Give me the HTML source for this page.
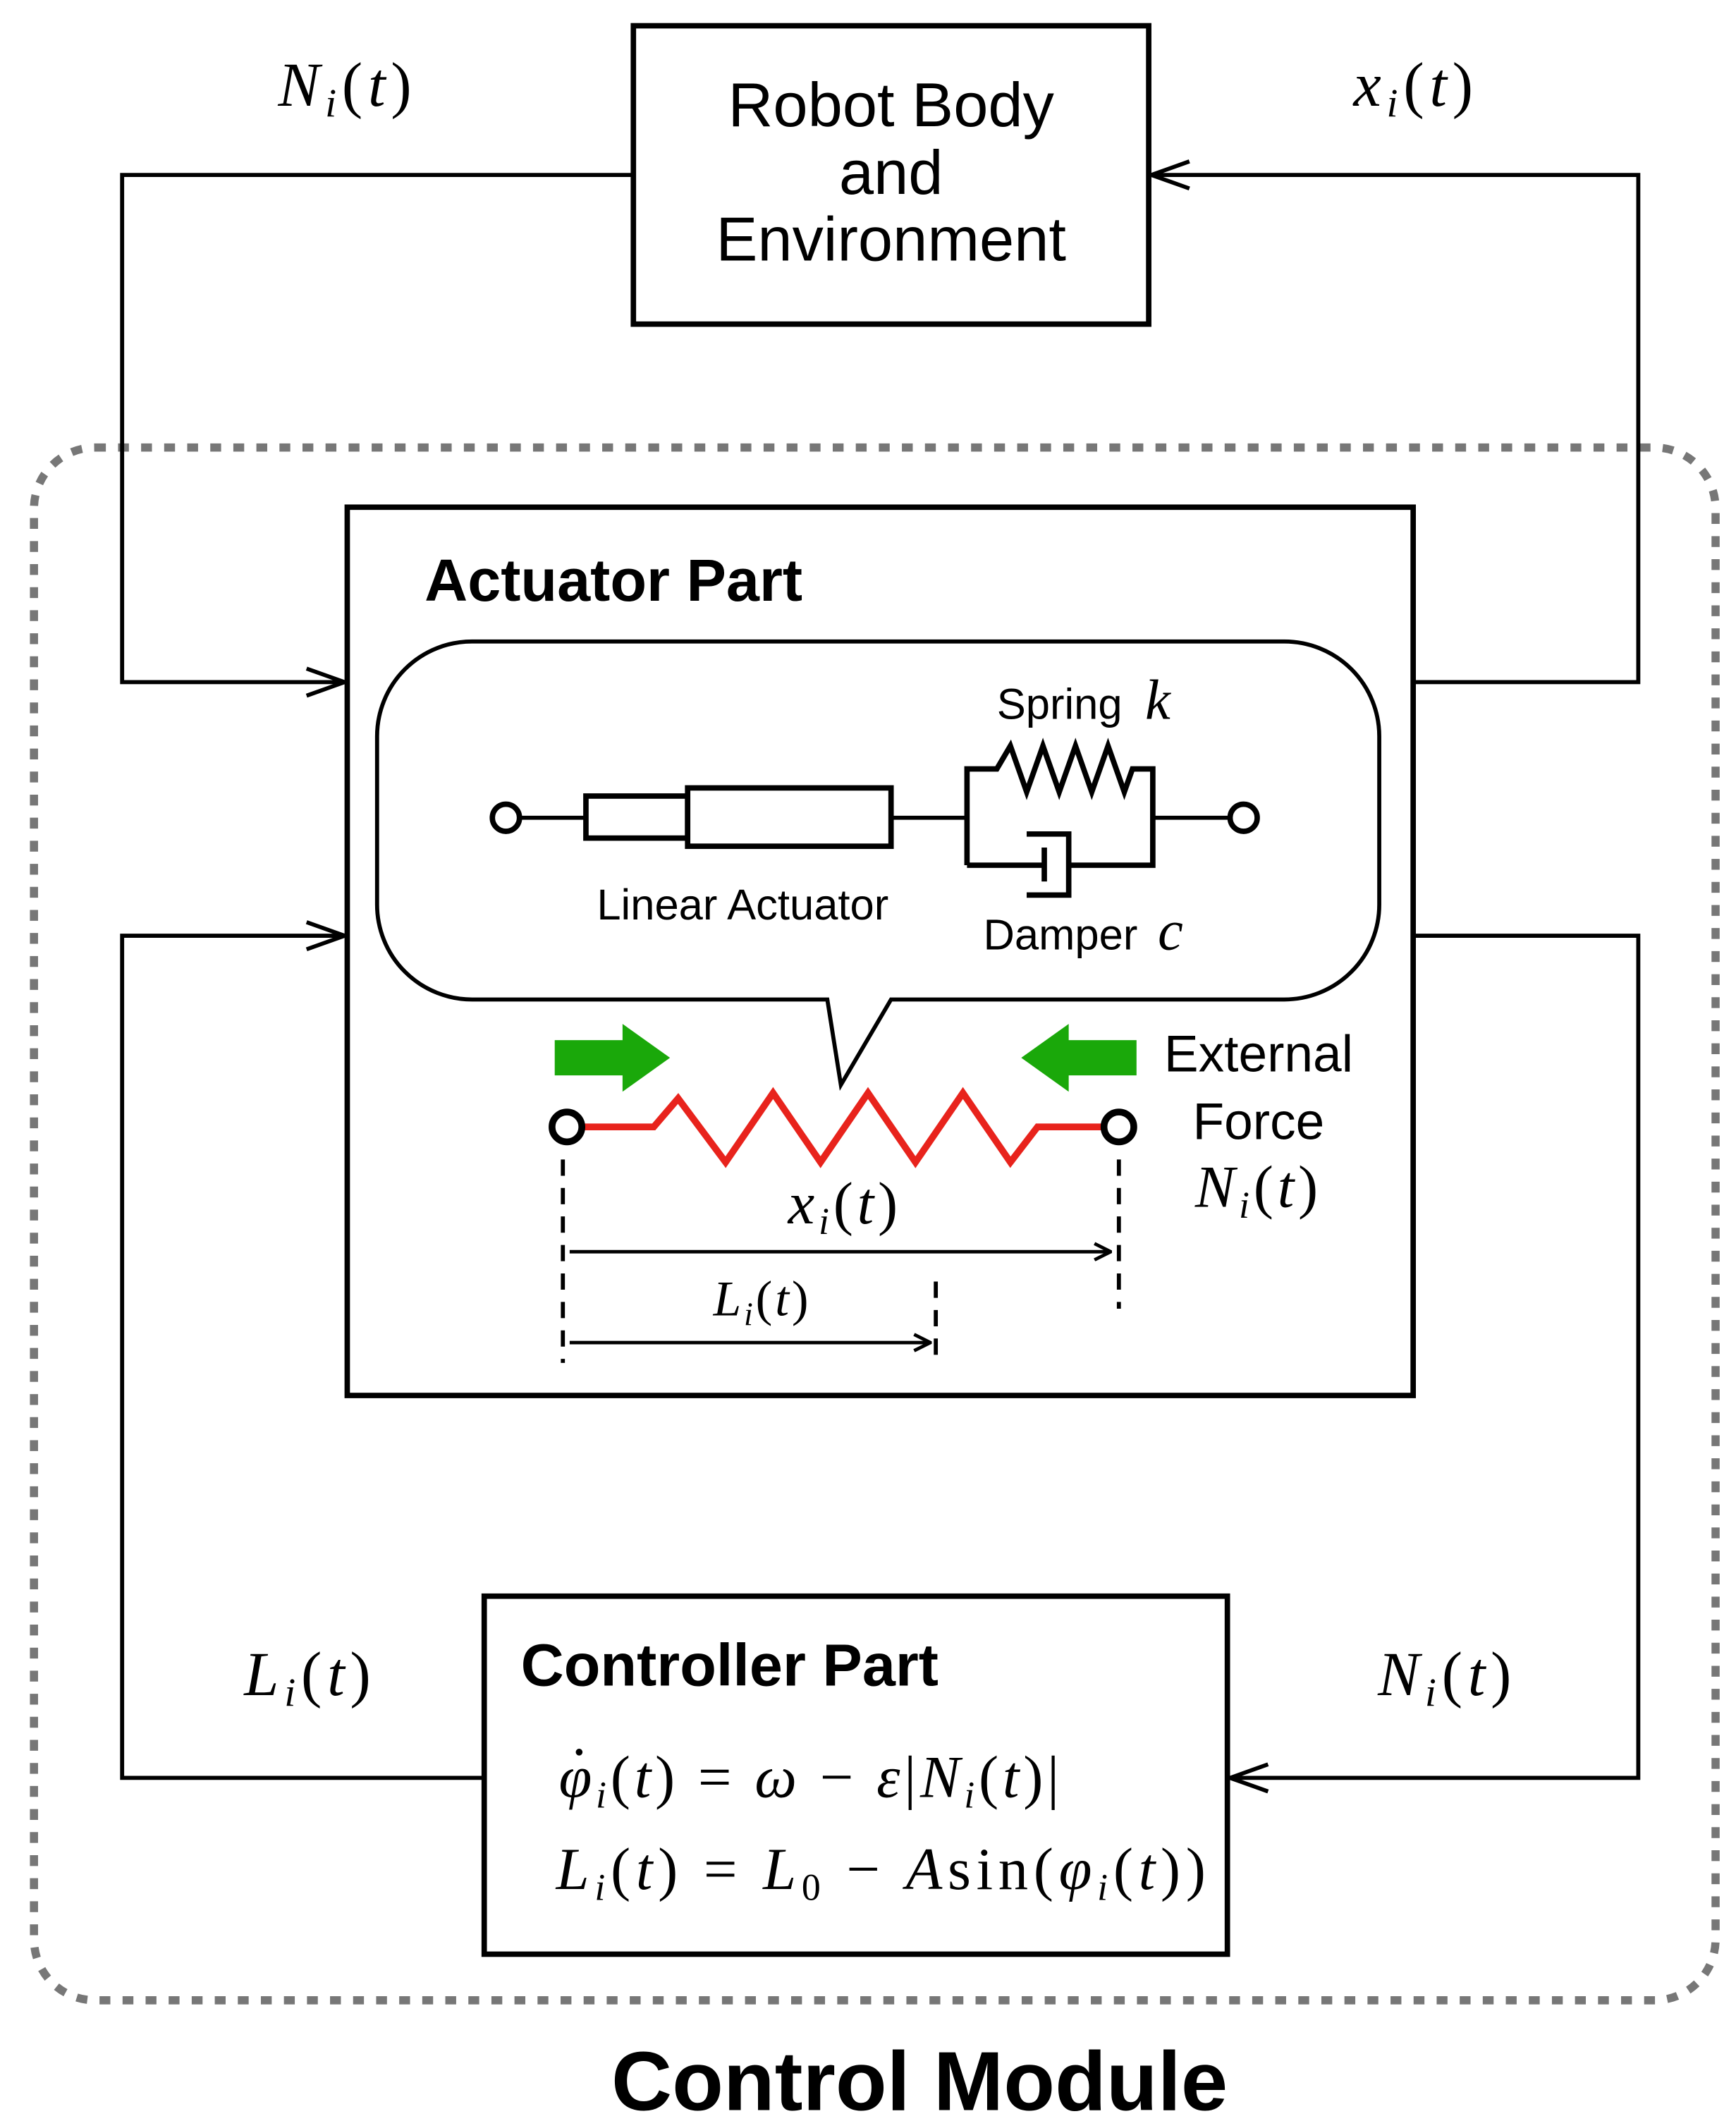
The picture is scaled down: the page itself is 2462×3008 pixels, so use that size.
<!DOCTYPE html>
<html><head><meta charset="utf-8"><style>
html,body{margin:0;padding:0;background:#fff;}
svg{display:block;}
.s{font-family:"Liberation Sans",sans-serif;}
.m{font-family:"Liberation Serif",serif;font-style:italic;}
.r{font-family:"Liberation Serif",serif;font-style:normal;}
</style></head><body>
<svg width="2462" height="3008" viewBox="0 0 1280 1564" xmlns="http://www.w3.org/2000/svg">
<defs>
<marker id="a" markerWidth="14" markerHeight="14" refX="13" refY="7" orient="auto" markerUnits="userSpaceOnUse">
<path d="M1,1 L13,7 L1,13" fill="none" stroke="#000" stroke-width="2.5"/>
</marker>
<marker id="b" markerWidth="30" markerHeight="24" refX="29" refY="12" orient="auto" markerUnits="userSpaceOnUse">
<path d="M1,2 L29,12 L1,22" fill="none" stroke="#000" stroke-width="3"/>
</marker>
</defs>
<rect width="1280" height="1564" fill="#fff"/>
<rect x="25" y="330" width="1240" height="1145" rx="45" fill="none" stroke="#777" stroke-width="6" stroke-dasharray="8 9"/>
<rect x="467" y="19" width="380" height="220" fill="#fff" stroke="#000" stroke-width="4"/>
<text class="s" font-size="46" text-anchor="middle" x="657" y="93">Robot Body</text>
<text class="s" font-size="46" text-anchor="middle" x="657" y="143">and</text>
<text class="s" font-size="46" text-anchor="middle" x="657" y="192">Environment</text>
<text class="m" font-size="46" letter-spacing="4" x="205" y="78">N<tspan font-size="30" dy="8">i</tspan><tspan class="r" dy="-8">(</tspan>t<tspan class="r">)</tspan></text>
<text class="m" font-size="46" letter-spacing="4" x="998" y="78">x<tspan font-size="30" dy="8">i</tspan><tspan class="r" dy="-8">(</tspan>t<tspan class="r">)</tspan></text>
<polyline points="467,129 90,129 90,503 254,503" fill="none" stroke="#000" stroke-width="3" marker-end="url(#b)"/>
<polyline points="1043,503 1208,503 1208,129 849,129" fill="none" stroke="#000" stroke-width="3" marker-end="url(#b)"/>
<polyline points="356,1311 90,1311 90,690 254,690" fill="none" stroke="#000" stroke-width="3" marker-end="url(#b)"/>
<polyline points="1043,690 1208,690 1208,1311 907,1311" fill="none" stroke="#000" stroke-width="3" marker-end="url(#b)"/>
<rect x="256" y="374" width="786" height="655" fill="#fff" stroke="#000" stroke-width="4"/>
<text class="s" font-size="44" font-weight="bold" x="313" y="443">Actuator Part</text>
<path d="M348,473 H947 A70,70 0 0 1 1017,543 V667 A70,70 0 0 1 947,737 H657 L620,800 L610,737 H348 A70,70 0 0 1 278,667 V543 A70,70 0 0 1 348,473 Z" fill="#fff" stroke="#000" stroke-width="3"/>
<line x1="383" y1="603" x2="432" y2="603" stroke="#000" stroke-width="3"/>
<circle cx="373" cy="603" r="10" fill="#fff" stroke="#000" stroke-width="4"/>
<rect x="432" y="587" width="75" height="31" fill="#fff" stroke="#000" stroke-width="4"/>
<rect x="507" y="581" width="150" height="43" fill="#fff" stroke="#000" stroke-width="4"/>
<line x1="657" y1="603" x2="713" y2="603" stroke="#000" stroke-width="3"/>
<polyline points="713,638 713,567 735,567 745,550 757,584 769,550 781,584 793,550 805,584 817,550 829,584 835,567 850,567 850,638 788,638" fill="none" stroke="#000" stroke-width="4"/>
<line x1="713" y1="638" x2="770" y2="638" stroke="#000" stroke-width="4"/>
<polyline points="757,615 788,615 788,660 757,660" fill="none" stroke="#000" stroke-width="4"/>
<line x1="770" y1="625" x2="770" y2="650" stroke="#000" stroke-width="4"/>
<line x1="850" y1="603" x2="907" y2="603" stroke="#000" stroke-width="3"/>
<circle cx="917" cy="603" r="10" fill="#fff" stroke="#000" stroke-width="4"/>
<text class="s" font-size="32" x="735" y="530">Spring <tspan class="m" font-size="42" dx="8">k</tspan></text>
<text class="s" font-size="32" x="440" y="678">Linear Actuator</text>
<text class="s" font-size="32" x="725" y="700">Damper <tspan class="m" font-size="42" dx="6">c</tspan></text>
<polygon points="409,767 459,767 459,755 494,780 459,805 459,793 409,793" fill="#1aa80a"/>
<polygon points="838,767 788,767 788,755 753,780 788,805 788,793 838,793" fill="#1aa80a"/>
<polyline points="428,831 482,831 500,810 535,857 570,806 605,857 640,806 675,857 710,806 745,857 765,831 815,831" fill="none" stroke="#e8231c" stroke-width="5"/>
<circle cx="418" cy="831" r="11" fill="#fff" stroke="#000" stroke-width="5"/>
<circle cx="825" cy="831" r="11" fill="#fff" stroke="#000" stroke-width="5"/>
<text class="s" font-size="38" text-anchor="middle" x="928" y="790">External</text>
<text class="s" font-size="38" text-anchor="middle" x="928" y="840">Force</text>
<text class="m" font-size="44" letter-spacing="3" text-anchor="middle" x="928" y="890">N<tspan font-size="28" dy="8">i</tspan><tspan class="r" dy="-8">(</tspan>t<tspan class="r">)</tspan></text>
<line x1="415" y1="855" x2="415" y2="1005" stroke="#000" stroke-width="3" stroke-dasharray="12 9"/>
<line x1="825" y1="855" x2="825" y2="965" stroke="#000" stroke-width="3" stroke-dasharray="12 9"/>
<line x1="690" y1="945" x2="690" y2="1005" stroke="#000" stroke-width="3" stroke-dasharray="12 9"/>
<text class="m" font-size="44" letter-spacing="3" text-anchor="middle" x="623" y="902">x<tspan font-size="28" dy="8">i</tspan><tspan class="r" dy="-8">(</tspan>t<tspan class="r">)</tspan></text>
<line x1="420" y1="923" x2="819" y2="923" stroke="#000" stroke-width="2.5" marker-end="url(#a)"/>
<text class="m" font-size="37" letter-spacing="2" text-anchor="middle" x="562" y="970">L<tspan font-size="24" dy="7">i</tspan><tspan class="r" dy="-7">(</tspan>t<tspan class="r">)</tspan></text>
<line x1="420" y1="990" x2="686" y2="990" stroke="#000" stroke-width="2.5" marker-end="url(#a)"/>
<rect x="357" y="1177" width="548" height="264" fill="#fff" stroke="#000" stroke-width="4"/>
<text class="s" font-size="44" font-weight="bold" x="384" y="1243">Controller Part</text>
<text class="m" font-size="44" letter-spacing="3" x="412" y="1325">φ<tspan font-size="28" dy="8">i</tspan><tspan class="r" dy="-8">(</tspan>t<tspan class="r">) = </tspan>ω<tspan class="r"> − </tspan>ε<tspan class="r">|</tspan>N<tspan font-size="28" dy="8">i</tspan><tspan class="r" dy="-8">(</tspan>t<tspan class="r">)|</tspan></text>
<circle cx="427" cy="1292" r="2.5" fill="#000"/>
<text class="m" font-size="44" letter-spacing="4" x="410" y="1393">L<tspan font-size="28" dy="8">i</tspan><tspan class="r" dy="-8">(</tspan>t<tspan class="r">) = </tspan>L<tspan class="r" font-size="28" dy="8">0</tspan><tspan class="r" dy="-8"> − </tspan>A<tspan class="r">sin(</tspan>φ<tspan font-size="28" dy="8">i</tspan><tspan class="r" dy="-8">(</tspan>t<tspan class="r">))</tspan></text>
<text class="m" font-size="46" letter-spacing="4" x="180" y="1250">L<tspan font-size="30" dy="8">i</tspan><tspan class="r" dy="-8">(</tspan>t<tspan class="r">)</tspan></text>
<text class="m" font-size="46" letter-spacing="4" x="1016" y="1250">N<tspan font-size="30" dy="8">i</tspan><tspan class="r" dy="-8">(</tspan>t<tspan class="r">)</tspan></text>
<text class="s" font-size="62" font-weight="bold" text-anchor="middle" x="678" y="1556">Control Module</text>
</svg>
</body></html>
